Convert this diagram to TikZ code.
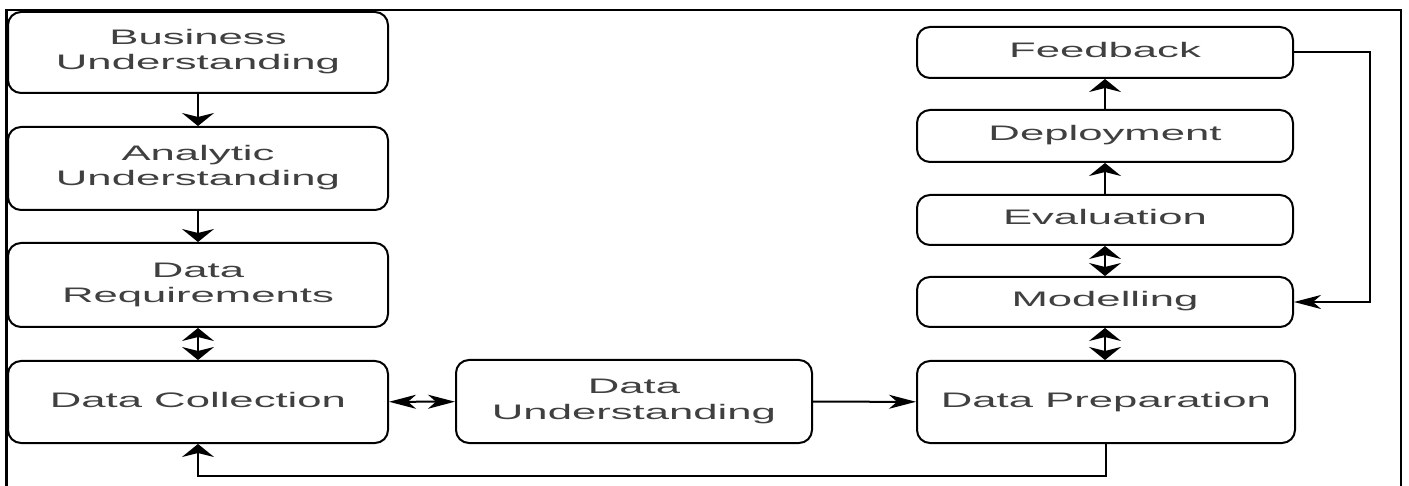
\documentclass[tikz,border=0pt]{standalone}
\usepackage{fontspec}
\setmainfont{Liberation Sans}
\usetikzlibrary{arrows.meta}
\newcommand{\lbl}[1]{\scalebox{2.08}[1]{\begin{tabular}{@{}c@{}}#1\end{tabular}}}
\tikzset{
  box/.style={draw=black, line width=2pt, rounded corners=13pt, inner sep=0pt,
    text=black!75, font=\fontsize{21}{25}\selectfont, align=center},
  conn/.style={draw=black, line width=2pt},
  vtip/.tip={Stealth[length=13pt,width=32pt,inset=4pt]},
  htip/.tip={Stealth[length=27pt,width=14pt,inset=8pt]},
  varr/.style={-vtip},
  vdbl/.style={vtip-vtip},
  harr/.style={-htip},
  hdbl/.style={htip-htip},
}
\begin{document}
\begin{tikzpicture}[x=1pt,y=-1pt]
\useasboundingbox (0,0) rectangle (1409,486);
\fill[white] (0,0) rectangle (1409,486);
% frame
\draw[line width=2.2pt] (6.5,490) -- (6.5,10) -- (1401,10) -- (1401,490);
% left column
\node[box, minimum width=380pt, minimum height=81pt] (bu) at (198,52.5) {\lbl{Business\\Understanding}};
\node[box, minimum width=380pt, minimum height=83pt] (au) at (198,168.5) {\lbl{Analytic\\Understanding}};
\node[box, minimum width=380pt, minimum height=84pt] (dr) at (198,285) {\lbl{Data\\Requirements}};
\node[box, minimum width=380pt, minimum height=82pt] (dc) at (198,402) {\lbl{Data Collection}};
% middle
\node[box, minimum width=356pt, minimum height=83pt] (du) at (634,401.5) {\lbl{Data\\Understanding}};
% right column
\node[box, minimum width=378pt, minimum height=82pt] (dp) at (1106,402) {\lbl{Data Preparation}};
\node[box, minimum width=376pt, minimum height=50pt] (mo) at (1105,302) {\lbl{Modelling}};
\node[box, minimum width=376pt, minimum height=50pt] (ev) at (1105,220) {\lbl{Evaluation}};
\node[box, minimum width=376pt, minimum height=52pt] (de) at (1105,136) {\lbl{Deployment}};
\node[box, minimum width=376pt, minimum height=51pt] (fb) at (1105,52.5) {\lbl{Feedback}};
% connectors
\draw[conn, varr] (bu) -- (au);
\draw[conn, varr] (au) -- (dr);
\draw[conn, vdbl] (dr) -- (dc);
\draw[conn, hdbl] (dc) -- (du);
\draw[conn, harr] (du) -- (dp);
\draw[conn, vdbl] (dp.north -| mo.south) -- (mo.south);
\draw[conn, vdbl] (mo) -- (ev);
\draw[conn, varr] (ev) -- (de);
\draw[conn, varr] (de) -- (fb);
\coordinate (fr) at (1370,52.5);
\draw[conn, harr] (fb.east) -- (fr) |- (mo.east);
\coordinate (bl) at (1106,476);
\draw[conn, varr] (dp.south) -- (bl) -| (dc.south);
\end{tikzpicture}
\end{document}
